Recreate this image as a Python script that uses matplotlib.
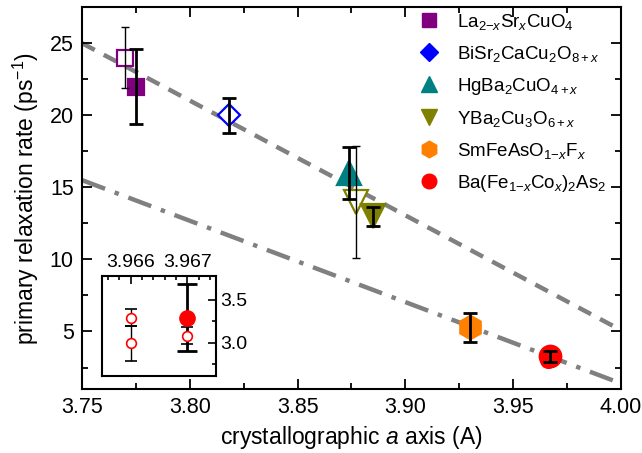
# primary relaxation rate vs in-plane lattice constant
import matplotlib.pyplot as plt
from matplotlib.lines import Line2D

plt.rcParams['font.family'] = 'Liberation Sans'
plt.rcParams['mathtext.fontset'] = 'custom'
plt.rcParams['mathtext.rm'] = 'Liberation Sans'
plt.rcParams['mathtext.it'] = 'Liberation Sans:italic'

# compounds (legend order)
labels = [r'La$_{2\mathrm{-}\mathit{x}}$Sr$_{\mathit{x}}$CuO$_4$',
          r'BiSr$_2$CaCu$_2$O$_{8+\mathit{x}}$',
          r'HgBa$_2$CuO$_{4+\mathit{x}}$',
          r'YBa$_2$Cu$_3$O$_{6+\mathit{x}}$',
          r'SmFeAsO$_{1\mathrm{-}\mathit{x}}$F$_{\mathit{x}}$',
          r'Ba(Fe$_{1\mathrm{-}\mathit{x}}$Co$_{\mathit{x}}$)$_2$As$_2$']
colors = ['#800080', '#0000ff', '#008080', '#808000', '#ff8000', '#ff0000']
markers = ['s', 'D', '^', 'v', 'h', 'o']

# data points: compound index, a axis, rate, error, filled marker
pt_comp = [0, 0, 1, 2, 3, 3, 4, 5]
pt_a = [3.770, 3.775, 3.818, 3.874, 3.877, 3.885, 3.930, 3.967]
pt_rate = [24.0, 22.0, 20.0, 16.0, 14.0, 13.0, 5.3, 3.29]
pt_err = [2.1, 2.6, 1.2, 1.8, 3.9, 0.65, 1.0, 0.39]
pt_filled = [False, True, False, True, False, True, True, True]
pt_thick = [False, True, True, True, False, True, True, True]
pt_size = [11, 12, 11, 17, 17, 17, 17, 15.5]

# Ba(Fe,Co)2As2 individual samples (open circles)
ba_a = [3.966, 3.966, 3.967]
ba_rate = [3.29, 2.99, 3.08]
ba_err = [0.10, 0.20, 0.10]

# guide lines
fit_a = [3.75, 4.00]
fit_dash = [25.0, 5.1]
fit_dashdot = [15.5, 1.4]

fig = plt.figure(figsize=(6.42, 4.53), dpi=100)
ax = fig.add_axes([0.128, 0.141, 0.839, 0.843])

ax.plot(fit_a, fit_dash, color='#808080', lw=3.2, ls=(0, (3.2, 2.3)), zorder=1)
ax.plot(fit_a, fit_dashdot, color='#808080', lw=3.2, ls=(0, (5.5, 2.3, 1, 2.3)), zorder=1)

for a, r, e in zip(ba_a, ba_rate, ba_err):
    ax.plot(a, r, 'o', ms=11, mfc='none', mec='#ff0000', mew=1.3, zorder=2)

for c, a, r, e, f, t, s in zip(pt_comp, pt_a, pt_rate, pt_err, pt_filled, pt_thick, pt_size):
    col = colors[c]
    ax.plot(a, r, markers[c], ms=s, mfc=col if f else 'white', mec=col,
            mew=1.6, zorder=3)
    ax.errorbar(a, r, yerr=e, fmt='none', ecolor='black',
                elinewidth=2 if t else 1, capsize=5.3 if t else 3,
                capthick=2 if t else 1, zorder=4)

ax.set_xlim(3.75, 4.00)
ax.set_ylim(1, 27.5)
ax.set_xticks([3.75, 3.80, 3.85, 3.90, 3.95, 4.00])
ax.set_xticks([3.775, 3.825, 3.875, 3.925, 3.975], minor=True)
ax.set_yticks([5, 10, 15, 20, 25])
ax.set_yticks([2.5, 7.5, 12.5, 17.5, 22.5], minor=True)
ax.tick_params(which='both', direction='in', top=True, right=True, labelsize=15.5,
               width=1.3, pad=6)
ax.tick_params(which='major', length=7)
ax.tick_params(which='minor', length=4)
for sp in ax.spines.values():
    sp.set_linewidth(1.5)
ax.set_xlabel(r'crystallographic $a$ axis (A)', fontsize=16.5, labelpad=4)
ax.set_ylabel(r'primary relaxation rate (ps$^{-1}$)', fontsize=16.5, labelpad=6)

handles = [Line2D([], [], ls='none', marker=m, ms=sz, mfc=c, mec=c)
           for m, c, sz in zip(markers, colors, [9.5, 9.5, 12, 12, 12, 10.5])]
ax.legend(handles, labels, loc='upper left', bbox_to_anchor=(0.61, 1.008),
          frameon=False, fontsize=13.5, handlelength=1.2, handletextpad=0.85,
          labelspacing=0.64, borderaxespad=0)

# inset
ins = fig.add_axes([0.1594, 0.170, 0.1766, 0.2214])
for a, r, e in zip(ba_a, ba_rate, ba_err):
    ins.errorbar(a, r, yerr=e, fmt='o', ms=7, mfc='white', mec='#ff0000',
                 mew=1.2, ecolor='black', elinewidth=1, capsize=4, capthick=1)
ins.errorbar(pt_a[-1], pt_rate[-1], yerr=pt_err[-1], fmt='o', ms=11,
             color='#ff0000', ecolor='black', elinewidth=2, capsize=7, capthick=2)
ins.set_xlim(3.9655, 3.9675)
ins.set_ylim(2.61, 3.78)
ins.set_xticks([3.966, 3.967])
ins.set_xticklabels(['3.966', '3.967'])
ins.set_xticks([3.9656, 3.9658, 3.9662, 3.9664, 3.9666, 3.9668, 3.9672, 3.9674], minor=True)
ins.set_yticks([3.0, 3.5])
ins.set_yticks([2.75, 3.25], minor=True)
ins.tick_params(which='both', direction='in', top=True, bottom=False, right=True,
                left=False, labeltop=True, labelbottom=False, labelright=True,
                labelleft=False, labelsize=14, width=1.2)
ins.tick_params(which='major', length=6)
ins.tick_params(which='minor', length=3)
for sp in ins.spines.values():
    sp.set_linewidth(1.5)

fig.savefig('out.png', dpi=100)
